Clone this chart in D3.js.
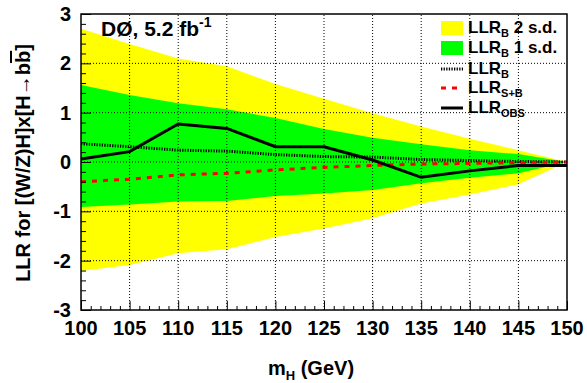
<!DOCTYPE html>
<html>
<head>
<meta charset="utf-8">
<script src="https://cdn.jsdelivr.net/npm/d3@7"></script>
<style>
  body { margin: 0; background: #fff; }
  svg text { font-family: "Liberation Sans", Arial, sans-serif; font-weight: bold; fill: #000; }
</style>
</head>
<body>
<svg id="chart" width="587" height="383"></svg>
<script>
// values
var mass = [100, 105, 110, 115, 120, 125, 130, 135, 140, 145, 150];
var yellowHi = [2.70, 2.39, 2.10, 1.94, 1.58, 1.28, 0.99, 0.72, 0.47, 0.24, 0.0];
var greenHi = [1.56, 1.36, 1.19, 1.07, 0.89, 0.67, 0.49, 0.36, 0.24, 0.16, 0.0];
var greenLo = [-0.91, -0.86, -0.80, -0.79, -0.69, -0.64, -0.57, -0.43, -0.32, -0.23, 0.0];
var yellowLo = [-2.21, -2.09, -1.85, -1.77, -1.52, -1.35, -1.14, -0.84, -0.66, -0.45, 0.0];
var llrB = [0.37, 0.31, 0.24, 0.22, 0.15, 0.11, 0.10, 0.05, 0.03, 0.01, 0.0];
var llrSB = [-0.40, -0.35, -0.26, -0.23, -0.16, -0.11, -0.07, -0.04, -0.03, -0.01, 0.0];
var llrObs = [0.06, 0.21, 0.77, 0.68, 0.31, 0.31, 0.04, -0.31, -0.18, -0.07, -0.07];
var xTicks = [100, 105, 110, 115, 120, 125, 130, 135, 140, 145, 150];
var yTicks = [-3, -2, -1, 0, 1, 2, 3];

var dimensions = {
  width: 587,
  height: 383,
  margin: { top: 14, right: 20, bottom: 73, left: 81 },
};
var x0 = dimensions.margin.left;
var x1 = dimensions.width - dimensions.margin.right;
var y0 = dimensions.height - dimensions.margin.bottom;
var y1 = dimensions.margin.top;

var svg = d3.select("#chart");

var xScale = d3.scaleLinear().domain([100, 150]).range([x0, x1]);
var yScale = d3.scaleLinear().domain([-3, 3]).range([y0, y1]);

var rows = mass.map((m, i) => ({
  m: m,
  yHi: yellowHi[i], yLo: yellowLo[i],
  gHi: greenHi[i], gLo: greenLo[i],
  b: llrB[i], sb: llrSB[i], obs: llrObs[i],
}));

// bands
var yellowArea = d3.area().x((d) => xScale(d.m)).y0((d) => yScale(d.yLo)).y1((d) => yScale(d.yHi));
var greenArea = d3.area().x((d) => xScale(d.m)).y0((d) => yScale(d.gLo)).y1((d) => yScale(d.gHi));
svg.append("path").datum(rows).attr("d", yellowArea).attr("fill", "#ffff00");
svg.append("path").datum(rows).attr("d", greenArea).attr("fill", "#00ff00");

// grid (drawn over the bands)
var grid = svg.append("g").attr("stroke", "#000").attr("stroke-width", 1).attr("stroke-dasharray", "1,2");
grid.selectAll(".gx").data(xTicks.slice(1, -1)).enter().append("line")
  .attr("x1", (d) => xScale(d)).attr("x2", (d) => xScale(d))
  .attr("y1", y0).attr("y2", y1);
grid.selectAll(".gy").data(yTicks.slice(1, -1)).enter().append("line")
  .attr("y1", (d) => yScale(d)).attr("y2", (d) => yScale(d))
  .attr("x1", x0).attr("x2", x1);

// lines
var line = (acc) => d3.line().x((d) => xScale(d.m)).y((d) => yScale(acc(d)));
svg.append("path").datum(rows).attr("d", line((d) => d.b))
  .attr("fill", "none").attr("stroke", "#000").attr("stroke-width", 3).attr("stroke-dasharray", "1.3,1.3");
svg.append("path").datum(rows).attr("d", line((d) => d.sb))
  .attr("fill", "none").attr("stroke", "#ff0000").attr("stroke-width", 3).attr("stroke-dasharray", "5,6");
svg.append("path").datum(rows).attr("d", line((d) => d.obs))
  .attr("fill", "none").attr("stroke", "#000").attr("stroke-width", 3);

// axes: ticks inside, ROOT style
var xAxisgen = d3.axisBottom(xScale).tickValues(d3.range(100, 150.5, 1)).tickSize(0).tickFormat("");
var xAxis = svg.append("g").attr("transform", `translate(0,${y0})`).call(xAxisgen);
xAxis.select(".domain").remove();
xAxis.selectAll(".tick line").attr("y2", (d) => (d % 5 === 0 ? -9 : -4)).attr("stroke", "#000");

var yAxisgen = d3.axisLeft(yScale).tickValues(d3.range(-3, 3.01, 0.2)).tickSize(0).tickFormat("");
var yAxis = svg.append("g").attr("transform", `translate(${x0},0)`).call(yAxisgen);
yAxis.select(".domain").remove();
yAxis.selectAll(".tick line")
  .attr("x2", (d) => (Math.abs(d - Math.round(d)) < 1e-6 ? 10 : 5)).attr("stroke", "#000");

// frame
svg.append("rect").attr("x", x0).attr("y", y1).attr("width", x1 - x0).attr("height", y0 - y1)
  .attr("fill", "none").attr("stroke", "#000").attr("stroke-width", 1.5);

// tick labels
svg.selectAll(".xl").data(xTicks).enter().append("text")
  .attr("x", (d) => xScale(d)).attr("y", 335).attr("text-anchor", "middle")
  .style("font-size", "20px").text((d) => d);
svg.selectAll(".yl").data(yTicks).enter().append("text")
  .attr("x", 71).attr("y", (d) => yScale(d) + 7).attr("text-anchor", "end")
  .style("font-size", "20px").text((d) => d);

// axis titles
var xt = svg.append("text").attr("x", 311).attr("y", 375).attr("text-anchor", "middle").style("font-size", "20px");
xt.append("tspan").text("m");
xt.append("tspan").attr("dy", 5).style("font-size", "13px").text("H");
xt.append("tspan").attr("dy", -5).text(" (GeV)");

var yt = svg.append("text").attr("transform", "translate(30,163) rotate(-90)")
  .attr("text-anchor", "middle").style("font-size", "20px");
yt.append("tspan").text("LLR for [(W/Z)H]x[H\u2192b");
yt.append("tspan").style("text-decoration", "overline").text("b");
yt.append("tspan").text("]");

// experiment label
var lab = svg.append("text").attr("x", 101).attr("y", 36).style("font-size", "21px");
lab.append("tspan").text("D\u00d8, 5.2 fb");
lab.append("tspan").attr("dy", -9).style("font-size", "14px").text("-1");

// legend
var legendItems = [
  { type: "box", color: "#ffff00", main: "LLR", sub: "B", tail: " 2 s.d.", y: 28 },
  { type: "box", color: "#00ff00", main: "LLR", sub: "B", tail: " 1 s.d.", y: 48 },
  { type: "line", color: "#000", dash: "1.3,1.3", main: "LLR", sub: "B", tail: "", y: 69 },
  { type: "line", color: "#ff0000", dash: "5,6", main: "LLR", sub: "S+B", tail: "", y: 88 },
  { type: "line", color: "#000", dash: null, main: "LLR", sub: "OBS", tail: "", y: 108 },
];
var leg = svg.append("g");
legendItems.forEach((it) => {
  if (it.type === "box") {
    leg.append("rect").attr("x", 441).attr("y", it.y - 7).attr("width", 22).attr("height", 14).attr("fill", it.color);
  } else {
    leg.append("line").attr("x1", 441).attr("x2", 463).attr("y1", it.y).attr("y2", it.y)
      .attr("stroke", it.color).attr("stroke-width", 3).attr("stroke-dasharray", it.dash);
  }
  var t = leg.append("text").attr("x", 468).attr("y", it.y + 5).style("font-size", "17px");
  t.append("tspan").text(it.main);
  t.append("tspan").attr("dy", 4).style("font-size", "11px").text(it.sub);
  if (it.tail) t.append("tspan").attr("dy", -4).text(it.tail);
});
</script>
</body>
</html>
